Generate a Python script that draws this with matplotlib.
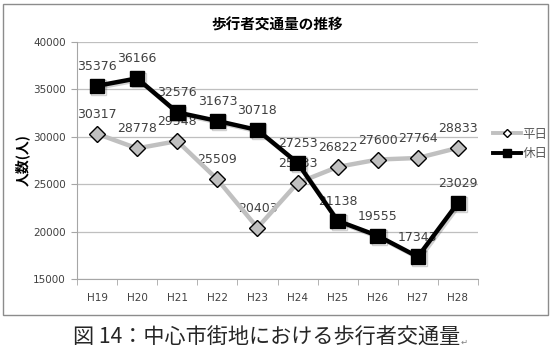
"""歩行者交通量の推移 (Excel style line chart)."""
import matplotlib

matplotlib.use("Agg")
import matplotlib.patheffects as pe
import matplotlib.pyplot as plt
from matplotlib.lines import Line2D
from matplotlib.patches import Rectangle

plt.rcParams["font.family"] = ["Noto Sans CJK JP", "DejaVu Sans"]

years = ["H19", "H20", "H21", "H22", "H23", "H24", "H25", "H26", "H27", "H28"]
weekday = [30317, 28778, 29548, 25509, 20403, 25133, 26822, 27600, 27764, 28833]
holiday = [35376, 36166, 32576, 31673, 30718, 27253, 21138, 19555, 17343, 23029]
yticks = [15000, 20000, 25000, 30000, 35000, 40000]


def main():
    """Do Things."""
    fig = plt.figure(figsize=(5.55, 3.53), dpi=100)
    # outer chart frame
    fig.patches.append(
        Rectangle(
            (3 / 555, 1 - 315 / 353),
            545 / 555,
            311 / 353,
            transform=fig.transFigure,
            fill=False,
            edgecolor="#8c8c8c",
            lw=1.0,
        )
    )
    ax = fig.add_axes([77 / 555, 1 - 279 / 353, 401 / 555, 237 / 353])
    x = list(range(len(years)))

    shadow = [pe.SimpleLineShadow(offset=(1.2, -1.2), alpha=0.18), pe.Normal()]
    ax.plot(
        x, weekday, color="#c0c0c0", lw=3.2, marker="D", ms=8,
        mfc="#c0c0c0", mec="black", mew=1.0, zorder=3,
    )
    ax.plot(
        x, holiday, color="black", lw=3.2, marker="s", ms=10.5,
        mfc="black", mec="black", zorder=4, path_effects=shadow,
    )
    for xi, val in zip(x, weekday):
        ax.annotate(
            str(val), (xi, val), xytext=(0, 14), textcoords="offset points",
            ha="center", va="center", fontsize=9, color="#404040",
            family=["DejaVu Sans"], zorder=2,
        )
    for xi, val in zip(x, holiday):
        ax.annotate(
            str(val), (xi, val), xytext=(0, 14), textcoords="offset points",
            ha="center", va="center", fontsize=9, color="#404040",
            family=["DejaVu Sans"], zorder=2,
        )

    ax.set_xlim(-0.5, len(years) - 0.5)
    ax.set_ylim(15000, 40000)
    ax.set_yticks(yticks)
    ax.set_yticklabels([str(v) for v in yticks])
    ax.set_xticks(x)
    ax.set_xticklabels(years)
    ax.set_xticks([i - 0.5 for i in range(len(years) + 1)], minor=True)
    ax.tick_params(axis="x", which="major", length=0, pad=10)
    ax.tick_params(axis="x", which="minor", length=4, color="#a6a6a6")
    ax.tick_params(axis="y", length=4, color="#a6a6a6", pad=4)
    for lab in ax.get_xticklabels() + ax.get_yticklabels():
        lab.set_fontsize(7.5)
        lab.set_color("#404040")
        lab.set_family(["DejaVu Sans"])
    ax.grid(axis="y", color="#bfbfbf", lw=0.9)
    ax.set_axisbelow(True)
    for side in ("top", "right"):
        ax.spines[side].set_visible(False)
    ax.spines["left"].set_color("#a6a6a6")
    ax.spines["bottom"].set_color("#a6a6a6")

    fig.text(0.5, 1 - 25 / 353, "歩行者交通量の推移", ha="center", va="center",
             fontsize=10.5, fontweight="bold")
    fig.text(22 / 555, 1 - 160 / 353, "人数(人)", rotation=90, ha="center",
             va="center", fontsize=10, fontweight="bold")
    fig.text(73 / 555, 1 - 338 / 353, "図 14：中心市街地における歩行者交通量",
             ha="left", va="center", fontsize=15.2, color="#262626")
    fig.text(461 / 555, 1 - 342 / 353, "↵", ha="left", va="center",
             fontsize=6, color="#808080", family=["DejaVu Sans"])

    handles = [
        Line2D([0], [0], color="#c0c0c0", lw=2.8, marker="D", ms=4.5,
               mfc="white", mec="black", mew=1.0, label="平日"),
        Line2D([0], [0], color="black", lw=2.8, marker="s", ms=5.5,
               mfc="black", label="休日"),
    ]
    fig.legend(
        handles=handles, loc="center left",
        bbox_to_anchor=(487 / 555, 1 - 144 / 353), frameon=False,
        fontsize=9, handlelength=2.2, handletextpad=0.15, labelspacing=0.55,
        labelcolor="#595959", borderpad=0,
    )
    fig.savefig("out.png", dpi=100)


if __name__ == "__main__":
    main()
